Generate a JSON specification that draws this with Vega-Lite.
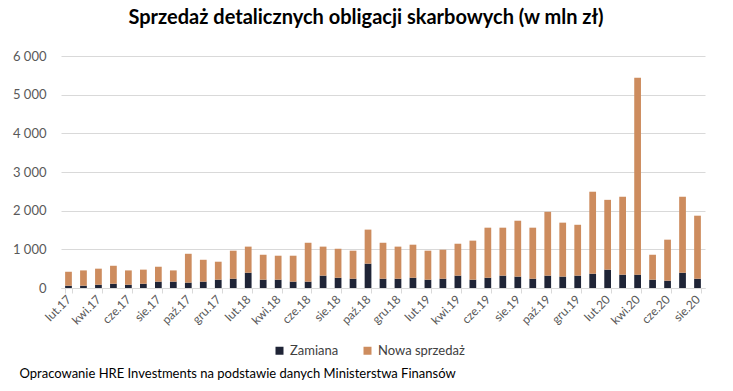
{
  "$schema": "https://vega.github.io/schema/vega-lite/v6.json",
  "width": 644,
  "height": 232,
  "autosize": {"type": "none"},
  "padding": {"left": 61, "top": 56, "right": 28, "bottom": 103},
  "background": "white",
  "title": {
    "text": "Sprzedaż detalicznych obligacji skarbowych (w mln zł)",
    "font": "Lato",
    "fontSize": 20,
    "fontWeight": "bold",
    "color": "#000000",
    "anchor": "middle",
    "dx": -17,
    "offset": 22
  },
  "data": {
    "values": [
      {"m": "lut.17", "Zamiana": 60, "Nowa sprzedaż": 360},
      {"m": "mar.17", "Zamiana": 60, "Nowa sprzedaż": 395},
      {"m": "kwi.17", "Zamiana": 85, "Nowa sprzedaż": 415},
      {"m": "maj.17", "Zamiana": 110, "Nowa sprzedaż": 465},
      {"m": "cze.17", "Zamiana": 85, "Nowa sprzedaż": 370},
      {"m": "lip.17", "Zamiana": 110, "Nowa sprzedaż": 365},
      {"m": "sie.17", "Zamiana": 165, "Nowa sprzedaż": 385},
      {"m": "wrz.17", "Zamiana": 165, "Nowa sprzedaż": 290},
      {"m": "paź.17", "Zamiana": 140, "Nowa sprzedaż": 745},
      {"m": "lis.17", "Zamiana": 165, "Nowa sprzedaż": 565},
      {"m": "gru.17", "Zamiana": 215, "Nowa sprzedaż": 465},
      {"m": "sty.18", "Zamiana": 240, "Nowa sprzedaż": 725},
      {"m": "lut.18", "Zamiana": 395, "Nowa sprzedaż": 675},
      {"m": "mar.18", "Zamiana": 215, "Nowa sprzedaż": 645},
      {"m": "kwi.18", "Zamiana": 215, "Nowa sprzedaż": 620},
      {"m": "maj.18", "Zamiana": 165, "Nowa sprzedaż": 670},
      {"m": "cze.18", "Zamiana": 165, "Nowa sprzedaż": 1005},
      {"m": "lip.18", "Zamiana": 320, "Nowa sprzedaż": 750},
      {"m": "sie.18", "Zamiana": 265, "Nowa sprzedaż": 750},
      {"m": "wrz.18", "Zamiana": 240, "Nowa sprzedaż": 725},
      {"m": "paź.18", "Zamiana": 630, "Nowa sprzedaż": 880},
      {"m": "lis.18", "Zamiana": 240, "Nowa sprzedaż": 930},
      {"m": "gru.18", "Zamiana": 240, "Nowa sprzedaż": 830},
      {"m": "sty.19", "Zamiana": 265, "Nowa sprzedaż": 855},
      {"m": "lut.19", "Zamiana": 215, "Nowa sprzedaż": 750},
      {"m": "mar.19", "Zamiana": 240, "Nowa sprzedaż": 750},
      {"m": "kwi.19", "Zamiana": 320, "Nowa sprzedaż": 825},
      {"m": "maj.19", "Zamiana": 215, "Nowa sprzedaż": 1010},
      {"m": "cze.19", "Zamiana": 265, "Nowa sprzedaż": 1295},
      {"m": "lip.19", "Zamiana": 320, "Nowa sprzedaż": 1240},
      {"m": "sie.19", "Zamiana": 295, "Nowa sprzedaż": 1445},
      {"m": "wrz.19", "Zamiana": 240, "Nowa sprzedaż": 1320},
      {"m": "paź.19", "Zamiana": 320, "Nowa sprzedaż": 1650},
      {"m": "lis.19", "Zamiana": 295, "Nowa sprzedaż": 1395},
      {"m": "gru.19", "Zamiana": 320, "Nowa sprzedaż": 1315},
      {"m": "sty.20", "Zamiana": 370, "Nowa sprzedaż": 2120},
      {"m": "lut.20", "Zamiana": 475, "Nowa sprzedaż": 1805},
      {"m": "mar.20", "Zamiana": 345, "Nowa sprzedaż": 2015},
      {"m": "kwi.20", "Zamiana": 345, "Nowa sprzedaż": 5090},
      {"m": "maj.20", "Zamiana": 215, "Nowa sprzedaż": 645},
      {"m": "cze.20", "Zamiana": 190, "Nowa sprzedaż": 1060},
      {"m": "lip.20", "Zamiana": 395, "Nowa sprzedaż": 1965},
      {"m": "sie.20", "Zamiana": 240, "Nowa sprzedaż": 1630}
    ]
  },
  "transform": [
    {"fold": ["Zamiana", "Nowa sprzedaż"], "as": ["series", "value"]}
  ],
  "mark": {"type": "bar"},
  "encoding": {
    "x": {
      "field": "m",
      "type": "nominal",
      "sort": null,
      "scale": {"paddingInner": 0.55, "paddingOuter": 0.275},
      "axis": {
        "values": ["lut.17","kwi.17","cze.17","sie.17","paź.17","gru.17","lut.18","kwi.18","cze.18","sie.18","paź.18","gru.18","lut.19","kwi.19","cze.19","sie.19","paź.19","gru.19","lut.20","kwi.20","cze.20","sie.20"],
        "tickBand": "extent",
        "tickColor": "#d9d9d9",
        "tickSize": 5,
        "domainColor": "#d9d9d9",
        "labelAngle": -45,
        "labelAlign": "right",
        "labelBaseline": "middle",
        "labelFont": "Lato",
        "labelFontSize": 12,
        "labelColor": "#595959",
        "labelPadding": 4,
        "title": "Opracowanie HRE Investments na podstawie danych Ministerstwa Finansów",
        "titleFont": "Lato",
        "titleFontSize": 13,
        "titleFontWeight": "normal",
        "titleColor": "#000000",
        "titleAnchor": "start",
        "titleAlign": "left",
        "titleBaseline": "alphabetic",
        "titleX": -42,
        "titleY": 89
      }
    },
    "y": {
      "field": "value",
      "type": "quantitative",
      "stack": "zero",
      "scale": {"domain": [0, 6000]},
      "axis": {
        "values": [0, 1000, 2000, 3000, 4000, 5000, 6000],
        "labelExpr": "replace(format(datum.value, ','), ',', ' ')",
        "title": null,
        "domain": false,
        "ticks": false,
        "gridColor": "#d9d9d9",
        "labelFont": "Lato",
        "labelFontSize": 13,
        "labelColor": "#595959",
        "labelPadding": 15
      }
    },
    "color": {
      "field": "series",
      "type": "nominal",
      "scale": {"domain": ["Zamiana", "Nowa sprzedaż"], "range": ["#1f2436", "#cd8c5e"]},
      "legend": {
        "title": null,
        "orient": "none",
        "direction": "horizontal",
        "legendX": 212,
        "legendY": 288,
        "symbolType": "square",
        "symbolSize": 64,
        "symbolStrokeWidth": 0,
        "labelFont": "Lato",
        "labelFontSize": 13,
        "labelColor": "#404040",
        "columnPadding": 22,
        "labelOffset": 4
      }
    },
    "order": {"field": "series", "sort": "descending"}
  },
  "config": {"view": {"stroke": null}}
}
